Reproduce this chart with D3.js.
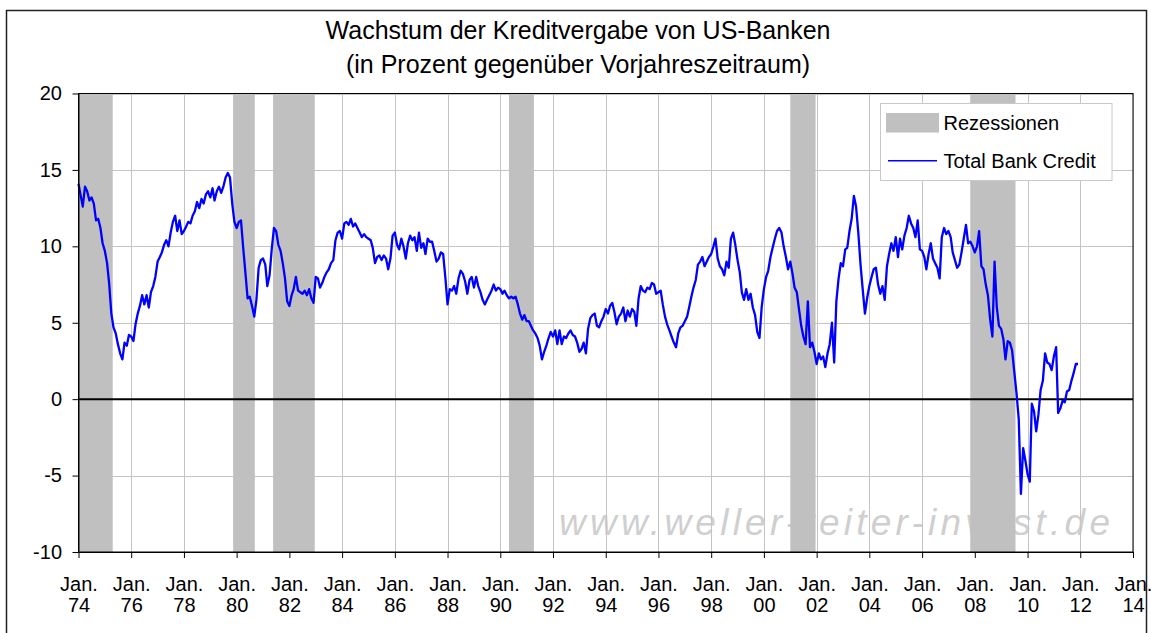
<!DOCTYPE html>
<html>
<head>
<meta charset="utf-8">
<script src="https://cdn.jsdelivr.net/npm/d3@7"></script>
<style>
  body { margin: 0; background: #fff; }
  svg { display: block; }
  text { font-family: "Liberation Sans", Arial, sans-serif; fill: #000; }
</style>
</head>
<body>
<svg id="chart" width="1151" height="633"></svg>
<script>
// ---------------- DATA ----------------
const titleLines = ["Wachstum der Kreditvergabe von US-Banken", "(in Prozent gegenüber Vorjahreszeitraum)"];
const yTicks = [-10, -5, 0, 5, 10, 15, 20];
const xTickYears = [1974, 1976, 1978, 1980, 1982, 1984, 1986, 1988, 1990, 1992, 1994, 1996, 1998, 2000, 2002, 2004, 2006, 2008, 2010, 2012, 2014];
const xTickMonth = "Jan.";
const xTickYearLabels = ["74", "76", "78", "80", "82", "84", "86", "88", "90", "92", "94", "96", "98", "00", "02", "04", "06", "08", "10", "12", "14"];
const recessionStarts = ["1974-01-01", "1979-11-13", "1981-05-20", "1990-05-01", "2001-01-01", "2007-10-30"];
const recessionEnds   = ["1975-04-20", "1980-09-09", "1982-12-18", "1991-04-12", "2001-12-17", "2009-07-18"];
const seriesStart = "1974-01-01";   // monthly values from January 1974
const creditGrowth = [
  14.1, 13.3, 12.6, 13.9, 13.6, 13.0, 13.2, 12.8, 11.7, 11.8, 11.2, 10.2, // 1974
   9.7,  8.9,  7.6,  5.6,  4.7,  4.3,  3.6,  3.0,  2.6,  3.7,  3.5,  4.2, // 1975
   4.1,  3.8,  4.9,  5.6,  6.1,  6.8,  6.2,  6.8,  6.0,  7.0,  7.4,  8.0, // 1976
   9.0,  9.3,  9.6, 10.1, 10.4, 10.0, 10.9, 11.6, 12.0, 11.0, 11.7, 10.8, // 1977
  11.0, 11.3, 11.6, 11.5, 12.0, 12.3, 12.9, 12.5, 13.1, 12.8, 13.4, 13.6, // 1978
  13.2, 13.8, 13.0, 13.6, 13.9, 13.5, 13.9, 14.5, 14.8, 14.5, 12.8, 11.6, // 1979
  11.2, 11.6, 11.7,  9.9,  8.3,  6.6,  6.7,  6.1,  5.4,  6.5,  8.6,  9.1, // 1980
   9.2,  8.8,  7.4,  8.1,  9.8, 11.2, 11.0, 10.1,  9.7,  8.9,  7.9,  6.4, // 1981
   6.1,  6.8,  7.2,  8.0,  7.1,  7.0,  6.9,  7.1,  6.8,  7.2,  6.6,  6.3, // 1982
   8.0,  7.9,  7.3,  7.6,  8.0,  8.3,  8.5,  8.9,  9.1, 10.4, 10.9, 11.0, // 1983
  10.5, 11.5, 11.6, 11.4, 11.8, 11.3, 11.5, 11.2, 10.9, 10.6, 10.8, 10.6, // 1984
  10.5, 10.4,  9.9,  8.9,  9.3,  9.4,  9.1,  9.4,  9.2,  8.5,  9.2, 10.7, // 1985
  10.9, 10.1,  9.8, 10.5, 10.0,  9.2, 10.2, 10.7, 10.4, 10.6,  9.7, 10.9, // 1986
   9.9, 10.2,  9.5, 10.5, 10.3, 10.3,  9.7,  9.0,  9.2,  9.6,  9.5,  8.0, // 1987
   6.2,  7.2,  7.1,  7.4,  6.9,  7.9,  8.4,  8.2,  7.7,  6.9,  7.8,  8.0, // 1988
   7.3,  8.0,  7.4,  7.0,  6.5,  6.2,  6.5,  6.8,  7.1,  7.5,  7.1,  7.3, // 1989
   7.2,  6.9,  7.1,  6.8,  6.6,  6.7,  6.6,  6.7,  6.2,  5.6,  5.2,  5.5, // 1990
   5.1,  5.1,  4.8,  4.5,  4.3,  4.0,  3.5,  2.6,  3.1,  3.5,  4.0,  4.4, // 1991
   4.1,  4.5,  3.6,  4.5,  3.6,  4.1,  4.0,  4.3,  4.5,  4.2,  4.1,  3.7, // 1992
   3.1,  3.3,  3.7,  3.0,  4.6,  5.3,  5.5,  5.6,  4.8,  4.7,  5.1,  5.4, // 1993
   5.9,  5.6,  6.1,  6.3,  5.7,  4.9,  5.4,  5.6,  6.0,  5.1,  5.8,  5.4, // 1994
   5.9,  5.7,  4.8,  6.6,  7.4,  7.1,  7.0,  7.3,  7.2,  7.6,  7.5,  6.9, // 1995
   7.0,  7.1,  6.2,  5.4,  4.9,  4.5,  4.1,  3.7,  3.4,  4.3,  4.7,  4.8, // 1996
   5.1,  5.4,  6.0,  6.7,  7.3,  7.8,  8.8,  9.0,  9.3,  8.7,  9.0,  9.3, // 1997
   9.5, 10.0, 10.5,  9.2,  8.7,  8.5,  8.1,  9.0,  8.6, 10.5, 10.9, 10.1, // 1998
   9.1,  8.3,  7.0,  6.5,  7.2,  6.5,  6.9,  6.0,  5.5,  4.4,  4.0,  6.0, // 1999
   7.2,  8.0,  8.4,  9.3,  9.9, 10.5, 11.0, 11.2, 10.9, 10.0,  9.3,  8.5, // 2000
   9.0,  8.2,  7.3,  7.0,  5.9,  4.8,  4.1,  3.6,  6.4,  3.4,  3.7,  3.1, // 2001
   2.3,  3.0,  2.6,  2.8,  2.1,  3.0,  3.6,  5.0,  2.4,  6.4,  7.9,  8.9, // 2002
   8.7,  9.8,  9.9, 11.0, 11.8, 13.3, 12.6, 10.9,  8.8,  7.2,  5.6,  6.6, // 2003
   7.4,  8.0,  8.5,  8.6,  7.5,  6.9,  7.4,  6.5,  8.7,  9.5, 10.2,  9.7, // 2004
  10.6,  9.3, 10.5,  9.8, 10.7, 11.2, 12.0, 11.5, 11.2, 10.6, 11.7,  9.8, // 2005
   9.7,  9.3,  8.5,  9.5, 10.2,  9.2,  8.9,  8.6,  7.9, 10.6, 11.2, 10.8, // 2006
  11.0, 10.6,  9.6,  9.1,  8.6,  8.8,  9.6, 10.5, 11.4, 10.2, 10.3, 10.0, // 2007
   9.6, 10.0, 11.0,  8.7,  8.5,  7.5,  6.8,  5.2,  4.1,  9.0,  6.0,  4.8, // 2008
   4.6,  3.9,  2.6,  3.8,  3.7,  3.2,  1.8,  0.4, -1.3, -6.2, -3.2, -4.0, // 2009
  -4.9, -5.4, -0.3, -0.8, -2.1, -1.0,  0.6,  1.2,  3.0,  2.4,  2.3,  1.9, // 2010
   2.8,  3.4, -0.9, -0.6, -0.1, -0.2,  0.5,  0.6,  1.2,  1.7,  2.3,  2.3  // 2011
];
const legendLabels = ["Rezessionen", "Total Bank Credit"];
const watermarkText = "www.weller-reiter-invest.de";

// ---------------- LAYOUT ----------------
const svg = d3.select("#chart");
const P = { l: 78.5, r: 1133, t: 93.5, b: 552 };
const parseDay = d3.utcParse("%Y-%m-%d");
const x = d3.scaleUtc().domain([Date.UTC(1974, 0, 1), Date.UTC(2014, 0, 1)]).range([P.l, P.r]);
const y = d3.scaleLinear().domain([-10, 20]).range([P.b, P.t]);
const start = parseDay(seriesStart);
const series = creditGrowth.map((v, i) => ({ date: d3.utcMonth.offset(start, i), v }));

// outer frame
svg.append("rect").attr("x", 6.5).attr("y", 10.5).attr("width", 1140).attr("height", 640)
  .attr("fill", "#fff").attr("stroke", "#202020").attr("stroke-width", 1.5);

// title
svg.append("g").selectAll("text").data(titleLines).join("text")
  .attr("x", 578).attr("y", (d, i) => 38.5 + i * 34.5)
  .attr("text-anchor", "middle").attr("font-size", 25).text(d => d);

// plot background
svg.append("rect").attr("x", P.l).attr("y", P.t).attr("width", P.r - P.l).attr("height", P.b - P.t).attr("fill", "#fff");

// watermark
svg.append("text").attr("x", 559).attr("y", 535).attr("font-size", 37).attr("font-style", "italic")
  .attr("textLength", 551).attr("lengthAdjust", "spacing")
  .style("fill", "#cfcfcf").text(watermarkText);

// gridlines
const grid = svg.append("g").attr("stroke", "#c4c4c4").attr("stroke-width", 1);
grid.selectAll("line.h").data(yTicks).join("line").attr("class", "h")
  .attr("x1", P.l).attr("x2", P.r).attr("y1", d => Math.round(y(d)) + 0.5).attr("y2", d => Math.round(y(d)) + 0.5);
grid.selectAll("line.v").data(xTickYears).join("line").attr("class", "v")
  .attr("y1", P.t).attr("y2", P.b)
  .attr("x1", d => Math.round(x(Date.UTC(d, 0, 1))) + 0.5).attr("x2", d => Math.round(x(Date.UTC(d, 0, 1))) + 0.5);

// recession bands
svg.append("g").selectAll("rect").data(recessionStarts.map((s, i) => [parseDay(s), parseDay(recessionEnds[i])])).join("rect")
  .attr("x", d => Math.max(P.l, x(d[0]))).attr("width", d => x(d[1]) - Math.max(P.l, x(d[0])))
  .attr("y", P.t).attr("height", P.b - P.t).attr("fill", "#c0c0c0");

// zero line
svg.append("line").attr("x1", P.l).attr("x2", P.r).attr("y1", y(0)).attr("y2", y(0))
  .attr("stroke", "#000").attr("stroke-width", 2);

// data line
svg.append("path").datum(series)
  .attr("d", d3.line().x(d => x(d.date)).y(d => y(d.v)))
  .attr("fill", "none").attr("stroke", "#0000ff").attr("stroke-width", 2.3).attr("stroke-linejoin", "round");

// plot border
svg.append("rect").attr("x", P.l).attr("y", P.t).attr("width", P.r - P.l).attr("height", P.b - P.t)
  .attr("fill", "none").attr("stroke", "#000").attr("stroke-width", 1);

// y axis
const yAxis = svg.append("g").attr("transform", `translate(${P.l},0)`)
  .call(d3.axisLeft(y).tickValues(yTicks).tickSize(6).tickSizeOuter(0).tickPadding(10.5).tickFormat(d => String(d)));
yAxis.select(".domain").attr("stroke", "#000");
yAxis.selectAll(".tick line").attr("stroke", "#000");
yAxis.selectAll(".tick text").attr("font-size", 20).attr("font-family", "Liberation Sans, Arial, sans-serif");

// x axis
const xAxis = svg.append("g").attr("transform", `translate(0,${P.b})`)
  .call(d3.axisBottom(x).tickValues(xTickYears.map(yy => new Date(Date.UTC(yy, 0, 1)))).tickSize(6).tickSizeOuter(0).tickFormat(""));
xAxis.select(".domain").attr("stroke", "#000");
xAxis.selectAll(".tick line").attr("stroke", "#000");
xAxis.selectAll(".tick text").remove();
xAxis.selectAll(".tick").each(function (d, i) {
  const g = d3.select(this);
  g.append("text").attr("y", 38.5).attr("text-anchor", "middle").attr("font-size", 20).text(xTickMonth);
  g.append("text").attr("y", 59.8).attr("text-anchor", "middle").attr("font-size", 20).text(xTickYearLabels[i]);
});

// legend
const lg = svg.append("g");
lg.append("rect").attr("x", 880.5).attr("y", 103.5).attr("width", 231.5).attr("height", 77)
  .attr("fill", "#fff").attr("stroke", "#c8c8c8").attr("stroke-width", 1);
lg.append("rect").attr("x", 886).attr("y", 113).attr("width", 53).attr("height", 19.5).attr("fill", "#c0c0c0");
lg.append("line").attr("x1", 888).attr("x2", 937).attr("y1", 160.7).attr("y2", 160.7)
  .attr("stroke", "#0000ff").attr("stroke-width", 1.6);
lg.selectAll("text").data(legendLabels).join("text")
  .attr("x", 943.5).attr("y", (d, i) => 129.5 + i * 38).attr("font-size", 20).text(d => d);
</script>
</body>
</html>
